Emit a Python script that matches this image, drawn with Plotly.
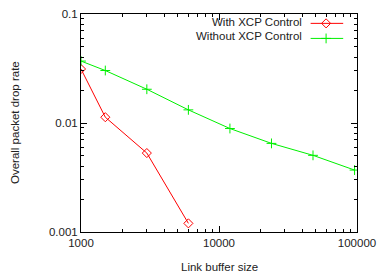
import plotly.graph_objects as go

buffer_with = [1000, 1500, 3000, 6000]
drop_with = [0.0313, 0.0113, 0.0053, 0.0012]
buffer_without = [1000, 1500, 3000, 6000, 12000, 24000, 48000, 96000]
drop_without = [0.037, 0.0303, 0.0204, 0.0132, 0.0089, 0.0065, 0.00505, 0.0037]
x_ticks = [1000, 10000, 100000]
x_tick_labels = ["1000", "10000", "100000"]
y_ticks = [0.001, 0.01, 0.1]
y_tick_labels = ["0.001", "0.01", "0.1"]
names = ["With XCP Control", "Without XCP Control"]
x_title = "Link buffer size"
y_title = "Overall packet drop rate"

RED = "#ff0000"
GREEN = "#00f000"
FONT = "Liberation Sans, Arial, sans-serif"
TXT = "#222222"
FS = 11.5

fig = go.Figure()
fig.add_trace(go.Scatter(x=buffer_with, y=drop_with, mode="lines+markers",
                         line=dict(color=RED, width=1),
                         marker=dict(symbol="diamond-open", size=7, color=RED, line=dict(width=1, color=RED)),
                         showlegend=False, hoverinfo="skip"))
fig.add_trace(go.Scatter(x=buffer_without, y=drop_without, mode="lines+markers",
                         line=dict(color=GREEN, width=1),
                         marker=dict(symbol="cross-thin-open", size=7, color=GREEN, line=dict(width=1, color=GREEN)),
                         showlegend=False, hoverinfo="skip"))

# custom gnuplot-style legend (text left of sample)
leg_line_y = [0.957, 0.888]
leg_text_y = [0.965, 0.897]
leg_colors = [RED, GREEN]
leg_symbols = ["diamond-open", "cross-thin-open"]
for i in range(2):
    fig.add_trace(go.Scatter(x=[0.832, 0.950], y=[leg_line_y[i], leg_line_y[i]], mode="lines",
                             line=dict(color=leg_colors[i], width=1),
                             xaxis="x2", yaxis="y2", showlegend=False, hoverinfo="skip"))
    fig.add_trace(go.Scatter(x=[0.888], y=[leg_line_y[i]], mode="markers",
                             marker=dict(symbol=leg_symbols[i], size=7,
                                         color=leg_colors[i], line=dict(width=1, color=leg_colors[i])),
                             xaxis="x2", yaxis="y2", showlegend=False, hoverinfo="skip"))
    fig.add_annotation(x=0.808, y=leg_text_y[i], xref="paper", yref="paper", text=names[i],
                       showarrow=False, xanchor="right", yanchor="middle",
                       font=dict(family=FONT, size=FS, color=TXT))

fig.add_annotation(x=0.5, y=0, xref="paper", yref="paper", text=x_title, showarrow=False,
                   xanchor="center", yanchor="middle", yshift=-35,
                   font=dict(family=FONT, size=FS, color=TXT))
fig.add_annotation(x=0, y=0.5, xref="paper", yref="paper", text=y_title, showarrow=False,
                   xanchor="center", yanchor="middle", xshift=-66, textangle=-90,
                   font=dict(family=FONT, size=FS, color=TXT))

axis_common = dict(type="log", showline=True, linecolor="black", linewidth=1, mirror="allticks",
                   ticks="inside", ticklen=6, tickcolor="black", showgrid=False, zeroline=False,
                   automargin=False,
                   tickfont=dict(family=FONT, size=FS, color=TXT),
                   minor=dict(ticks="inside", ticklen=3, tickcolor="black", showgrid=False, dtick="D1"))

fig.update_layout(
    width=377, height=279,
    margin=dict(l=81, r=20, t=14, b=47),
    paper_bgcolor="white", plot_bgcolor="white",
    xaxis=dict(range=[3, 5], tickvals=x_ticks, ticktext=x_tick_labels, **axis_common),
    yaxis=dict(range=[-3, -1], tickvals=y_ticks, ticktext=y_tick_labels, **axis_common),
    xaxis2=dict(range=[0, 1], overlaying="x", visible=False, fixedrange=True),
    yaxis2=dict(range=[0, 1], overlaying="y", visible=False, fixedrange=True),
    showlegend=False,
    hovermode=False,
)

fig.write_html("out.html", config={"displayModeBar": False, "staticPlot": True},
               post_script="document.body.style.margin='0';document.body.style.overflow='hidden';")
